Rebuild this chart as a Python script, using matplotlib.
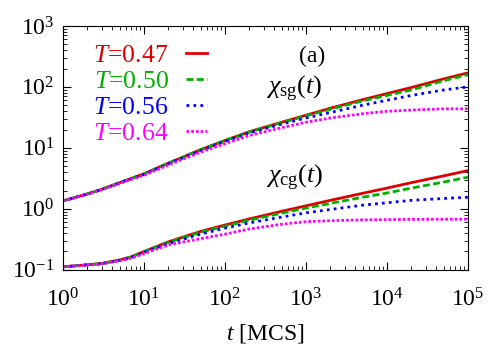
import matplotlib
matplotlib.use("Agg")
import matplotlib.pyplot as plt
from matplotlib.ticker import LogLocator, NullFormatter

plt.rcParams['font.family'] = ['Liberation Serif', 'DejaVu Serif']
plt.rcParams['mathtext.fontset'] = 'custom'
plt.rcParams['mathtext.rm'] = 'Liberation Serif'
plt.rcParams['mathtext.it'] = 'Liberation Serif:italic'

t = [1, 2, 3, 5, 7, 10, 20, 50, 100, 200, 500, 1e3, 2e3, 5e3, 1e4, 2e4, 5e4, 1e5]
temps = ["0.47", "0.50", "0.56", "0.64"]

chi_sg_047 = [1.35, 1.76, 2.09, 2.69, 3.16, 3.75, 5.62, 9.33, 13.2, 18.4, 26.3, 34.3, 44.7, 61.7, 77.6, 97.7, 135, 170]
chi_sg_050 = [1.35, 1.76, 2.09, 2.69, 3.16, 3.75, 5.62, 9.33, 13.2, 18.2, 25.8, 33.5, 43.0, 58.9, 72.4, 89.1, 126, 158]
chi_sg_056 = [1.35, 1.75, 2.07, 2.66, 3.12, 3.68, 5.50, 9.0, 12.7, 17.6, 24.5, 30.9, 38.0, 50.1, 60.3, 72.4, 89.1, 100]
chi_sg_064 = [1.35, 1.74, 2.05, 2.60, 3.04, 3.55, 5.25, 8.5, 11.7, 16.0, 21.4, 26.3, 30.9, 36.3, 39.8, 41.7, 43.7, 43.7]

chi_cg_047 = [0.112, 0.121, 0.127, 0.145, 0.164, 0.200, 0.288, 0.427, 0.543, 0.684, 0.912, 1.12, 1.38, 1.80, 2.19, 2.69, 3.47, 4.25]
chi_cg_050 = [0.112, 0.121, 0.127, 0.145, 0.163, 0.198, 0.282, 0.412, 0.521, 0.650, 0.851, 1.03, 1.23, 1.55, 1.82, 2.19, 2.75, 3.31]
chi_cg_056 = [0.112, 0.121, 0.126, 0.143, 0.160, 0.193, 0.270, 0.385, 0.483, 0.589, 0.733, 0.861, 0.977, 1.15, 1.26, 1.38, 1.48, 1.55]
chi_cg_064 = [0.112, 0.120, 0.125, 0.141, 0.156, 0.185, 0.257, 0.324, 0.385, 0.468, 0.560, 0.617, 0.640, 0.660, 0.668, 0.672, 0.676, 0.676]

sg = [chi_sg_047, chi_sg_050, chi_sg_056, chi_sg_064]
cg = [chi_cg_047, chi_cg_050, chi_cg_056, chi_cg_064]
colors = ['#dd0000', '#00b000', '#0000ff', '#ff00ff']
styles = ['-', (0, (2.5, 1.2)), (0, (1, 1.5)), (0, (1, 0.7))]

fig = plt.figure(figsize=(5, 3.5), dpi=100)
ax = fig.add_axes([0.126, 0.229, 0.81, 0.697])

for i in range(4):
    ax.plot(t, sg[i], color=colors[i], linestyle=styles[i], lw=2,
            label=r'$T$=' + temps[i])
    ax.plot(t, cg[i], color=colors[i], linestyle=styles[i], lw=2)

ax.set_xscale('log')
ax.set_yscale('log')
ax.set_xlim(1, 1e5)
ax.set_ylim(0.1, 1000)
for axis in [ax.xaxis, ax.yaxis]:
    axis.set_major_locator(LogLocator(base=10, numticks=20))
    axis.set_minor_locator(LogLocator(base=10, subs=range(2, 10), numticks=20))
    axis.set_minor_formatter(NullFormatter())
ax.tick_params(which='both', direction='in', top=True, right=True, labelsize=17)
ax.tick_params(which='major', length=6)
ax.tick_params(which='minor', length=3)
ax.tick_params(axis='x', pad=13)
ax.tick_params(axis='y', pad=6)

ax.set_xlabel(r'$t$ [MCS]', fontsize=17, labelpad=8)

ax.text(0.615, 0.875, '(a)', transform=ax.transAxes, fontsize=17, ha='center', va='center')
ax.text(0.572, 0.74, r'$\chi_{\mathrm{sg}}(t)$', transform=ax.transAxes, fontsize=19, ha='center', va='center')
ax.text(0.572, 0.375, r'$\chi_{\mathrm{cg}}(t)$', transform=ax.transAxes, fontsize=19, ha='center', va='center')

leg = ax.legend(loc='upper left', frameon=False, markerfirst=False, fontsize=18.5,
                labelcolor='linecolor', handlelength=0.8, handletextpad=0.7,
                labelspacing=0.12, borderaxespad=0, borderpad=0,
                bbox_to_anchor=(0.074, 0.925))

fig.savefig('out.png', dpi=100)
